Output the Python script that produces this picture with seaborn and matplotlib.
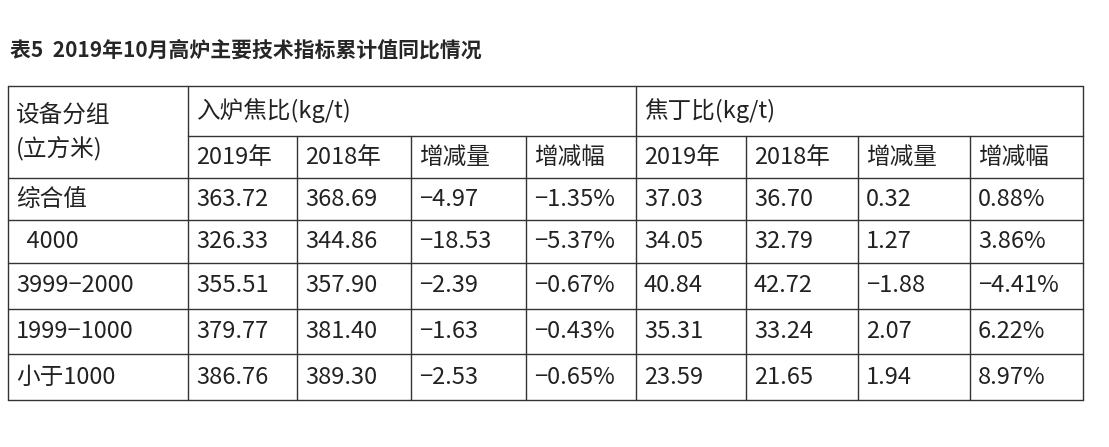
import matplotlib
matplotlib.use("Agg")
import matplotlib.pyplot as plt
import seaborn as sns

sns.set_theme(style="white")
plt.rcParams['font.family'] = ['Noto Sans CJK SC', 'DejaVu Sans']

title = "表5  2019年10月高炉主要技术指标累计值同比情况"
group_header = "设备分组\n(立方米)"
section_labels = ["入炉焦比(kg/t)", "焦丁比(kg/t)"]
sub_labels = ["2019年", "2018年", "增减量", "增减幅"]
groups = ["综合值", "  4000", "3999−2000", "1999−1000", "小于1000"]
coke_2019 = ["363.72", "326.33", "355.51", "379.77", "386.76"]
coke_2018 = ["368.69", "344.86", "357.90", "381.40", "389.30"]
coke_diff = ["−4.97", "−18.53", "−2.39", "−1.63", "−2.53"]
coke_pct = ["−1.35%", "−5.37%", "−0.67%", "−0.43%", "−0.65%"]
nut_2019 = ["37.03", "34.05", "40.84", "35.31", "23.59"]
nut_2018 = ["36.70", "32.79", "42.72", "33.24", "21.65"]
nut_diff = ["0.32", "1.27", "−1.88", "2.07", "1.94"]
nut_pct = ["0.88%", "3.86%", "−4.41%", "6.22%", "8.97%"]

# layout in pixels
col_x = [8, 188, 297, 411, 526, 636, 746, 858, 970, 1083]
row_y = [86, 136, 178, 220, 263, 309, 354, 400]

fig = plt.figure(figsize=(11.09, 4.47), dpi=100)
ax = fig.add_axes([0, 0, 1, 1])
ax.set_xlim(0, 1109)
ax.set_ylim(447, 0)
ax.axis("off")

ax.text(10, 50, title, fontsize=15, fontweight="bold", va="center", ha="left")

lw = 1.0
c = "#333333"
# outer frame + horizontal lines
ax.plot([col_x[0], col_x[-1]], [row_y[0]] * 2, color=c, lw=lw)
ax.plot([col_x[1], col_x[-1]], [row_y[1]] * 2, color=c, lw=lw)
for y in row_y[2:]:
    ax.plot([col_x[0], col_x[-1]], [y] * 2, color=c, lw=lw)
for i, x in enumerate(col_x):
    if i in (0, 1, 5, 9):
        ax.plot([x, x], [row_y[0], row_y[-1]], color=c, lw=lw)
    else:
        ax.plot([x, x], [row_y[1], row_y[-1]], color=c, lw=lw)

fs = 17
ax.text(16, (row_y[0] + row_y[2]) / 2, group_header, fontsize=fs, va="center",
        ha="left", linespacing=1.5, color="#222222")
for k, lab in enumerate(section_labels):
    ax.text(col_x[1 + 4 * k] + 8, (row_y[0] + row_y[1]) / 2, lab, fontsize=fs,
            va="center", ha="left", color="#222222")
for j in range(8):
    ax.text(col_x[1 + j] + 8, (row_y[1] + row_y[2]) / 2, sub_labels[j % 4],
            fontsize=fs, va="center", ha="left", color="#222222")

cols = [coke_2019, coke_2018, coke_diff, coke_pct, nut_2019, nut_2018, nut_diff, nut_pct]
for r, g in enumerate(groups):
    yc = (row_y[2 + r] + row_y[3 + r]) / 2
    ax.text(16, yc, g, fontsize=fs, va="center", ha="left", color="#222222")
    for j, col in enumerate(cols):
        ax.text(col_x[1 + j] + 8, yc, col[r], fontsize=fs, va="center",
                ha="left", color="#222222")

fig.savefig("out.png", dpi=100, facecolor="white")
